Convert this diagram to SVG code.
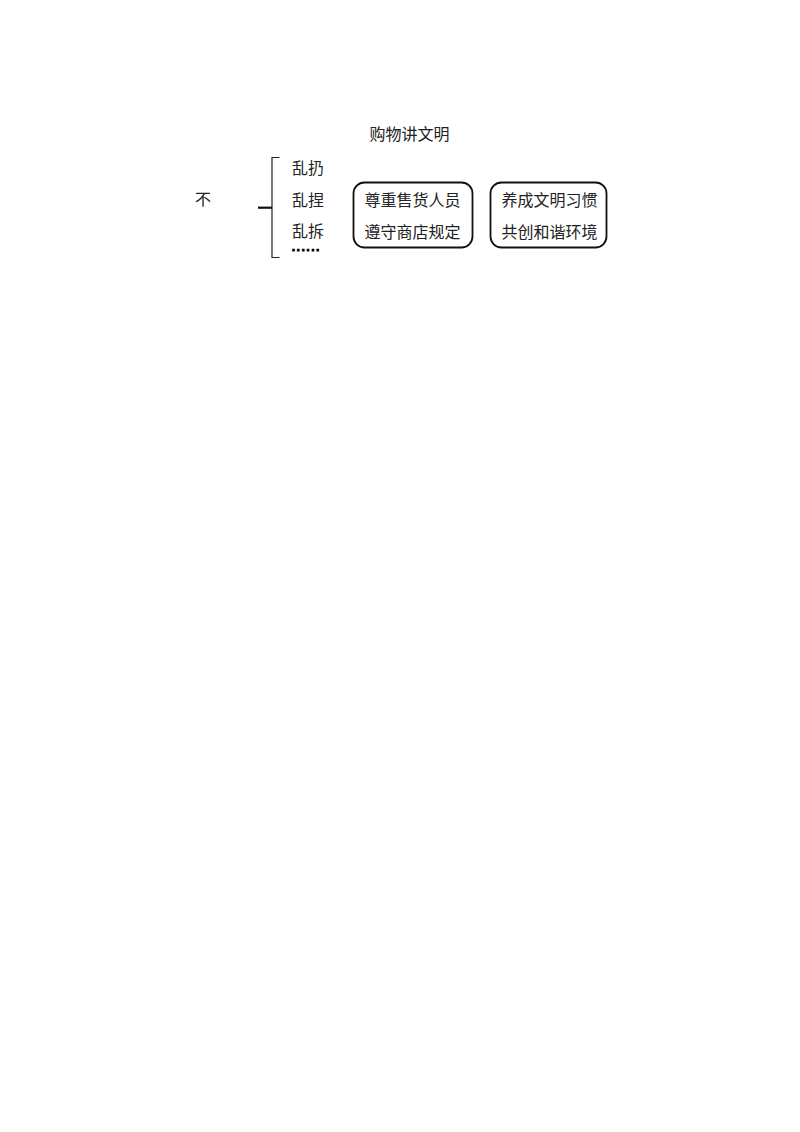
<svg xmlns="http://www.w3.org/2000/svg" width="800" height="1132" viewBox="0 0 800 1132">
<style>
text{font-family:"Noto Sans CJK SC","Noto Sans",sans-serif;font-size:16px;fill:#222}
text.dots{font-family:"Liberation Sans",sans-serif;font-weight:bold;font-size:10.5px;letter-spacing:1.95px;fill:#000;stroke:#000;stroke-width:1.1px}
.box{fill:#fff;stroke:#111;stroke-width:1.8}
.ln{fill:none;stroke:#222;stroke-width:1.2}
</style>
<rect width="800" height="1132" fill="#fff"/>
<g id="title"><text x="409.5" y="139.5" text-anchor="middle">购物讲文明</text></g>
<g id="bu"><text x="203" y="205" text-anchor="middle">不</text></g>
<g id="connectors">
<path class="ln" d="M279.5,157.5 H272 V257.5 H279.5"/>
<path d="M258,207.7 H272" stroke="#111" stroke-width="2.2"/>
</g>
<g id="list">
<text x="292" y="174">乱扔</text>
<text x="292" y="206">乱捏</text>
<text x="292" y="237">乱拆</text>
<text class="dots" x="292" y="251">......</text>
</g>
<g id="box1">
<rect class="box" x="353.5" y="182.5" width="119" height="65" rx="11"/>
<text x="412.5" y="206" text-anchor="middle">尊重售货人员</text>
<text x="412.5" y="238" text-anchor="middle">遵守商店规定</text>
</g>
<g id="box2">
<rect class="box" x="490.5" y="182.5" width="116" height="65" rx="11"/>
<text x="549.5" y="206" text-anchor="middle">养成文明习惯</text>
<text x="549.5" y="238" text-anchor="middle">共创和谐环境</text>
</g>
</svg>
